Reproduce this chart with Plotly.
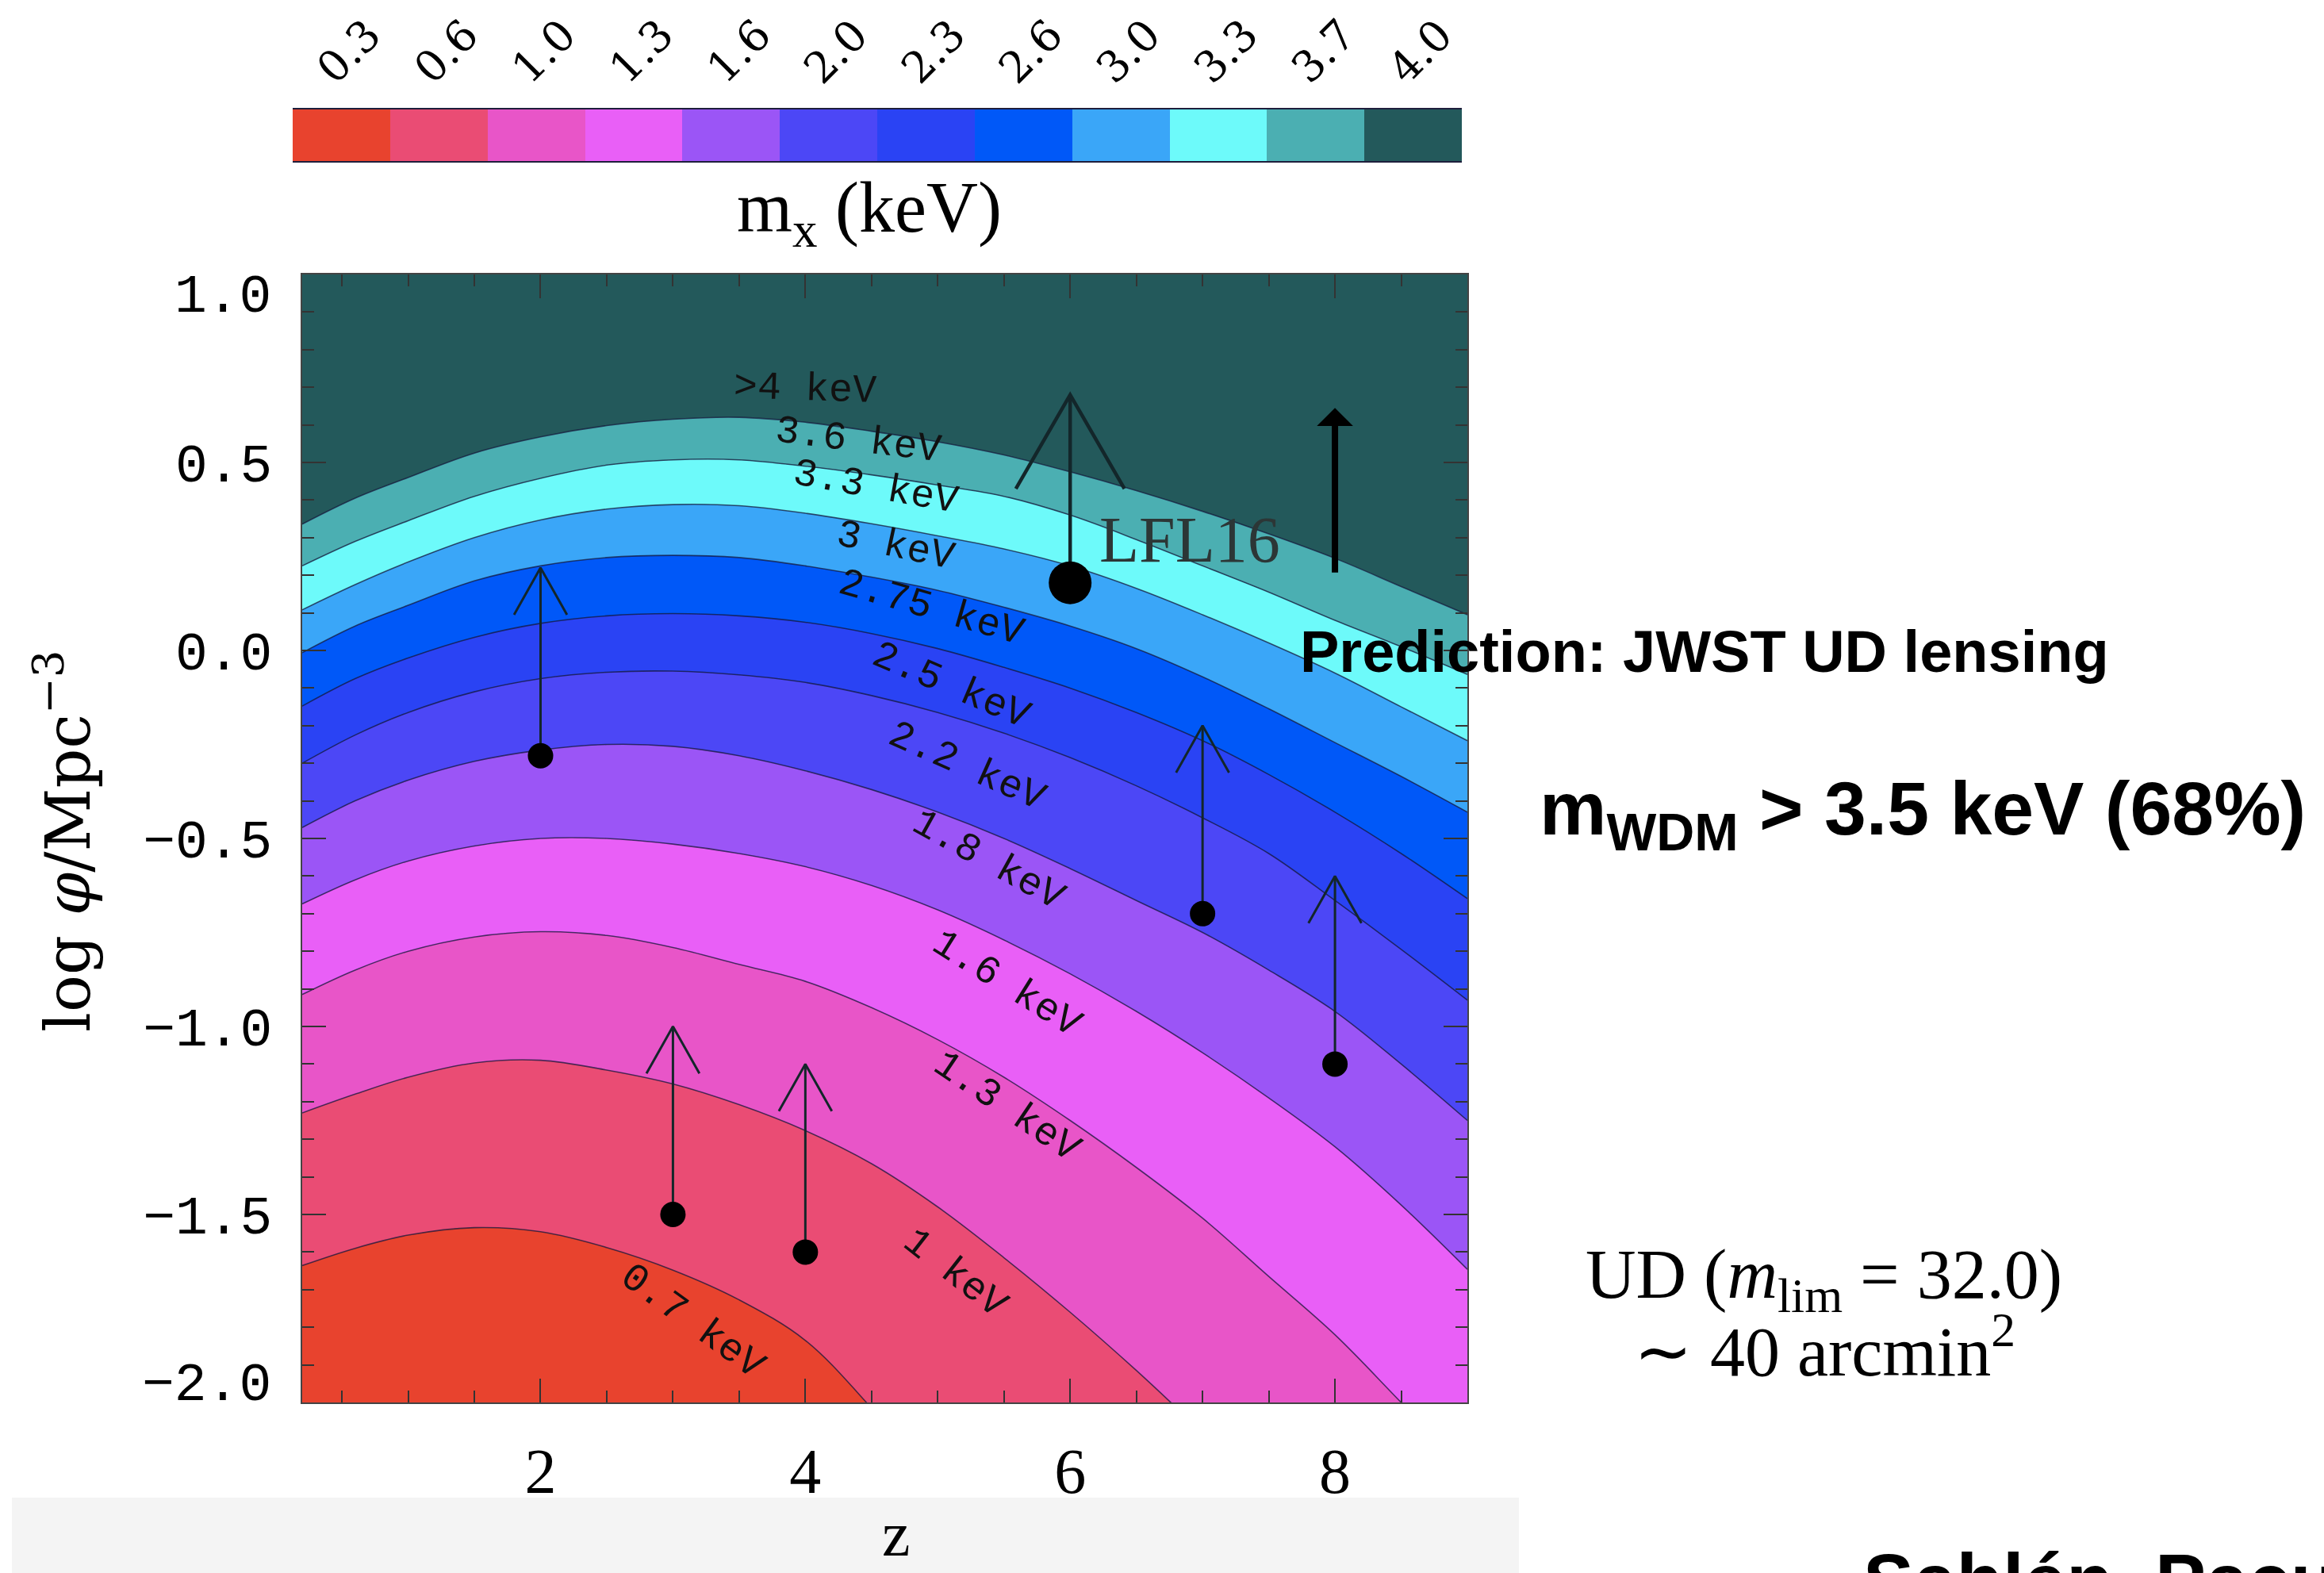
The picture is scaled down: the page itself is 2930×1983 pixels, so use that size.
import plotly.graph_objects as go

W, H = 2930, 1983

# ---------------- data ----------------
# colour bins of the WDM particle mass m_x (keV)
BAND_COLORS = ["#E8432E", "#EA4C74", "#E855C8", "#E95FF7", "#9B55F6", "#4C47F6",
               "#2A43F4", "#0058F8", "#3AA6F8", "#6DFAFA", "#4BAFB2", "#23595B"]
CBAR_TICKS = ["0.3", "0.6", "1.0", "1.3", "1.6", "2.0", "2.3", "2.6", "3.0", "3.3", "3.7", "4.0"]

# axis ticks
Z_TICKS = [2, 4, 6, 8]
PHI_TICKS = [-2.0, -1.5, -1.0, -0.5, 0.0, 0.5, 1.0]

# redshift samples for the iso-mass boundaries
Z_GRID = [0.2, 0.6, 1.0, 1.5, 2.0, 2.5, 3.0, 3.5, 4.0, 4.5, 5.0, 5.5, 6.0, 6.5, 7.0, 7.5, 8.0, 8.5, 9.0]

# log phi of each boundary between consecutive mass bands (lowest first)
B_07_10 = [-1.636, -1.59, -1.555, -1.535, -1.546, -1.588, -1.648, -1.727, -1.835, -2.015,
           -2.22, -2.45, -2.65, -2.85, -3.05, -3.25, -3.45, -3.65, -3.85]
B_10_13 = [-1.23, -1.18, -1.135, -1.097, -1.09, -1.116, -1.153, -1.208, -1.277, -1.365,
           -1.48, -1.615, -1.76, -1.915, -2.08, -2.25, -2.43, -2.62, -2.82]
B_13_16 = [-0.915, -0.85, -0.80, -0.762, -0.748, -0.758, -0.79, -0.835, -0.88, -0.95,
           -1.035, -1.135, -1.25, -1.375, -1.51, -1.665, -1.82, -2.0, -2.18]
B_16_18 = [-0.674, -0.61, -0.56, -0.52, -0.50, -0.50, -0.515, -0.54, -0.575, -0.625,
           -0.69, -0.77, -0.86, -0.96, -1.07, -1.19, -1.32, -1.475, -1.646]
B_18_22 = [-0.471, -0.40, -0.345, -0.295, -0.265, -0.25, -0.255, -0.28, -0.32, -0.37,
           -0.43, -0.50, -0.58, -0.665, -0.75, -0.85, -0.96, -1.10, -1.25]
B_22_25 = [-0.30, -0.225, -0.165, -0.11, -0.075, -0.058, -0.055, -0.065, -0.085, -0.12,
           -0.165, -0.22, -0.285, -0.36, -0.445, -0.54, -0.665, -0.795, -0.93]
B_25_275 = [-0.148, -0.075, -0.02, 0.035, 0.072, 0.092, 0.098, 0.092, 0.075, 0.045,
            0.005, -0.045, -0.10, -0.165, -0.24, -0.33, -0.43, -0.54, -0.66]
B_275_30 = [-0.006, 0.065, 0.12, 0.185, 0.225, 0.247, 0.253, 0.247, 0.225, 0.195,
            0.16, 0.115, 0.065, 0.005, -0.07, -0.155, -0.245, -0.335, -0.43]
B_30_33 = [0.108, 0.175, 0.235, 0.30, 0.347, 0.376, 0.388, 0.385, 0.365, 0.337,
           0.305, 0.27, 0.225, 0.165, 0.095, 0.02, -0.06, -0.15, -0.24]
B_33_36 = [0.225, 0.29, 0.345, 0.41, 0.458, 0.493, 0.507, 0.507, 0.49, 0.467,
           0.44, 0.41, 0.36, 0.295, 0.225, 0.155, 0.08, 0.01, -0.064]
B_36_40 = [0.336, 0.405, 0.46, 0.525, 0.568, 0.598, 0.615, 0.62, 0.607, 0.583,
           0.555, 0.52, 0.475, 0.425, 0.37, 0.31, 0.245, 0.17, 0.095]
BOUNDARIES = [B_07_10, B_10_13, B_13_16, B_16_18, B_18_22, B_22_25,
              B_25_275, B_275_30, B_30_33, B_33_36, B_36_40]
FLOOR = -4.5

# band labels: text, z, log phi, rotation (deg)
BAND_LABELS = [(">4 keV", 4.00, 0.696, 2), ("3.6 keV", 4.40, 0.558, 7),
               ("3.3 keV", 4.53, 0.434, 10), ("3 keV", 4.68, 0.278, 12),
               ("2.75 keV", 4.95, 0.113, 16), ("2.5 keV", 5.10, -0.094, 23),
               ("2.2 keV", 5.22, -0.309, 24), ("1.8 keV", 5.38, -0.558, 29),
               ("1.6 keV", 5.52, -0.887, 32), ("1.3 keV", 5.52, -1.214, 34),
               ("1 keV", 5.13, -1.657, 38), ("0.7 keV", 3.15, -1.785, 36)]

# lower limits on the halo number density
Z_PTS = [2, 3, 4, 7, 8]
LOGPHI_PTS = [-0.28, -1.50, -1.60, -0.70, -1.10]
LFL16_Z, LFL16_PHI = 6.0, 0.18
ARROW_LEN = 0.5

# JWST UD lensing prediction
PRED_Z, PRED_LO, PRED_HI = 8.0, 0.204, 0.645

# ---------------- figure ----------------
fig = go.Figure()

fig.add_trace(go.Scatter(x=[Z_GRID[0], Z_GRID[-1]], y=[FLOOR, FLOOR], mode="lines",
                         line=dict(width=0), showlegend=False, hoverinfo="skip"))
for k, b in enumerate(BOUNDARIES):
    fig.add_trace(go.Scatter(x=Z_GRID, y=b, mode="lines",
                             line=dict(width=0, shape="spline", smoothing=1.0),
                             fill="tonexty", fillcolor=BAND_COLORS[k],
                             showlegend=False, hoverinfo="skip"))
for b in BOUNDARIES:
    fig.add_trace(go.Scatter(x=Z_GRID, y=b, mode="lines",
                             line=dict(width=1.6, color="rgba(20,20,55,0.7)",
                                       shape="spline", smoothing=1.0),
                             showlegend=False, hoverinfo="skip"))


def arrow_path(zs, ys, length, hx, hy):
    xs, yv = [], []
    for z, y in zip(zs, ys):
        top = y + length
        xs += [z, z, None, z - hx, z, z + hx, None]
        yv += [y, top, None, top - hy, top, top - hy, None]
    return xs, yv


ax_, ay_ = arrow_path(Z_PTS, LOGPHI_PTS, ARROW_LEN, 0.2, 0.125)
fig.add_trace(go.Scatter(x=ax_, y=ay_, mode="lines", line=dict(color="#13262a", width=3),
                         showlegend=False, hoverinfo="skip"))
lx, ly = arrow_path([LFL16_Z], [LFL16_PHI], ARROW_LEN, 0.41, 0.25)
fig.add_trace(go.Scatter(x=lx, y=ly, mode="lines", line=dict(color="#13262a", width=4.5),
                         showlegend=False, hoverinfo="skip"))
fig.add_trace(go.Scatter(x=Z_PTS, y=LOGPHI_PTS, mode="markers",
                         marker=dict(color="black", size=32), showlegend=False))
fig.add_trace(go.Scatter(x=[LFL16_Z], y=[LFL16_PHI], mode="markers",
                         marker=dict(color="black", size=54), showlegend=False))

# colour bar as a one-row heatmap
n = len(BAND_COLORS)
cscale = []
for i, c in enumerate(BAND_COLORS):
    cscale += [[i / n, c], [(i + 1) / n, c]]
fig.add_trace(go.Heatmap(x=list(range(n)), y=[0], z=[list(range(n))], zmin=-0.5, zmax=n - 0.5,
                         colorscale=cscale, showscale=False, xaxis="x2", yaxis="y2",
                         hoverinfo="skip"))


def px(x):
    return x / W


def py(y):
    return 1 - y / H


serif = "Liberation Serif"
dserif = "DejaVu Serif"
mono = "Liberation Mono"
sans = "Liberation Sans"


def fmt(v):
    return f"{v:.1f}".replace("-", "−")


def note(x, y, text, font, xanchor="center", yanchor="middle", **kw):
    return dict(x=px(x), y=py(y), xref="paper", yref="paper", text=text, showarrow=False,
                xanchor=xanchor, yanchor=yanchor, font=font, **kw)


# end labels of the y axis sit inside the frame
ytext = [fmt(v) for v in PHI_TICKS]
ytext[0] = ""
ytext[-1] = ""

ann = []
for v, shift in ((PHI_TICKS[0], 22), (PHI_TICKS[-1], -28)):
    ann.append(dict(x=px(344), y=v, xref="paper", yref="y", text=fmt(v), showarrow=False,
                    xanchor="right", yanchor="middle", yshift=shift,
                    font=dict(family=mono, size=68, color="black")))
for txt, z, phi, ang in BAND_LABELS:
    ann.append(dict(x=z, y=phi, xref="x", yref="y", text=txt, showarrow=False,
                    xanchor="center", yanchor="middle", textangle=ang,
                    font=dict(family=mono, size=50, color="#111")))
for i, t in enumerate(CBAR_TICKS):
    ann.append(dict(x=i + 0.08, y=py(65), xref="x2", yref="paper", text=t, showarrow=False,
                    xanchor="center", yanchor="middle", textangle=-45,
                    font=dict(family=dserif, size=54, color="black")))
ann += [
    note(1096, 268, "m<sub>x</sub> (keV)", dict(family=serif, size=90, color="black")),
    note(80, 1060, "log <i>φ</i>/Mpc<sup>−3</sup>", dict(family=dserif, size=78, color="black"),
         textangle=-90),
    note(1130, 1934, "z", dict(family=serif, size=80, color="black")),
    dict(x=LFL16_Z, y=LFL16_PHI, xref="x", yref="y", xshift=35, yshift=54, xanchor="left",
         yanchor="middle", text="LFL16", showarrow=False,
         font=dict(family=serif, size=82, color="#2c3636")),
    dict(x=PRED_Z, y=PRED_HI, ax=PRED_Z, ay=PRED_LO, xref="x", yref="y", axref="x", ayref="y",
         text="", showarrow=True, arrowhead=1, arrowsize=0.95, arrowwidth=8, arrowcolor="black"),
    note(1637, 821, "<b>Prediction: JWST UD lensing</b>",
         dict(family=sans, size=74, color="black"), xanchor="left"),
    note(1939, 1026, "<b>m<sub>WDM</sub> > 3.5 keV (68%)</b>",
         dict(family=sans, size=95, color="black"), xanchor="left"),
    note(2299, 1612, "UD (<i>m</i><sub>lim</sub> = 32.0)", dict(family=serif, size=88, color="black")),
    note(2300, 1697, "∼ 40 arcmin<sup>2</sup>", dict(family=serif, size=88, color="black")),
    note(2347, 1937, "<b>Sahlén, Pacu</b>", dict(family=sans, size=96, color="black"),
         xanchor="left", yanchor="top"),
]

fig.update_layout(
    width=W, height=H, margin=dict(l=0, r=0, t=0, b=0, autoexpand=False),
    paper_bgcolor="white", plot_bgcolor=BAND_COLORS[-1],
    showlegend=False, annotations=ann,
    shapes=[dict(type="rect", xref="paper", yref="paper", x0=px(15), x1=px(1915),
                 y0=py(1983), y1=py(1888), fillcolor="#f4f4f4", line=dict(width=0),
                 layer="below")],
    xaxis=dict(domain=[px(381), px(1850)], range=[0.2, 9.0], tickvals=Z_TICKS,
               automargin=False,
               ticks="inside", ticklen=30, tickwidth=2, tickcolor="#333",
               showline=True, mirror="ticks", linecolor="#444", linewidth=2,
               showgrid=False, zeroline=False, ticklabelstandoff=16,
               tickfont=dict(family=serif, size=80, color="black"),
               minor=dict(tick0=0, dtick=0.5, ticks="inside", ticklen=15, tickwidth=1.5,
                          tickcolor="#333")),
    yaxis=dict(domain=[py(1768), py(346)], range=[-2.0, 1.0], tickvals=PHI_TICKS,
               ticktext=ytext, automargin=False,
               ticks="inside", ticklen=30, tickwidth=2, tickcolor="#333",
               showline=True, mirror="ticks", linecolor="#444", linewidth=2,
               showgrid=False, zeroline=False, ticklabelstandoff=22,
               tickfont=dict(family=mono, size=68, color="black"),
               minor=dict(tick0=0, dtick=0.1, ticks="inside", ticklen=15, tickwidth=1.5,
                          tickcolor="#333")),
    xaxis2=dict(domain=[px(369), px(1843)], range=[-0.5, n - 0.5], anchor="y2",
                automargin=False,
                showticklabels=False, ticks="", showline=True, mirror=True,
                linecolor="#1e1e3c", linewidth=2, showgrid=False, zeroline=False),
    yaxis2=dict(domain=[py(203), py(138)], range=[-0.5, 0.5], anchor="x2",
                automargin=False,
                showticklabels=False, ticks="", showline=False, showgrid=False,
                zeroline=False),
)

fig.write_html("out.html")
